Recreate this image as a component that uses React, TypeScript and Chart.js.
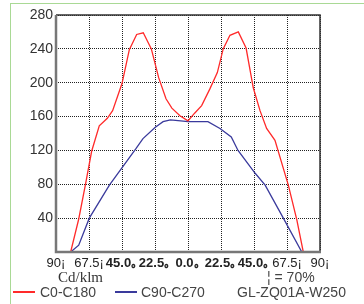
import React, { useEffect, useRef } from "react";
import { Chart, registerables } from "chart.js";

Chart.register(...registerables);

const redAngles = [-80, -74.5, -70, -65.7, -60.5, -55, -51.4, -45, -40, -35, -30.5, -25, -20, -15, -11, -5.5, 0, 4.5, 9.3, 15, 20, 24, 28.6, 34.3, 39.6, 44.5, 49.1, 53.6, 59.3, 68.4, 74.2, 78.6];
const redValues = [0, 39, 79, 119, 149, 158, 167, 199, 239, 257, 259, 240, 206, 181, 170, 161, 155, 164, 173, 193, 212, 240, 256, 260, 241, 194, 167, 146, 132, 79, 38, 0];

const blueAngles = [-80, -74.5, -67.3, -53.6, -35.5, -30.7, -22.5, -17, -12, -5, 0, 13.6, 21.8, 29.5, 34.1, 45.8, 52.6, 65, 77.6];
const blueValues = [0, 8, 40, 79, 122, 134, 147, 154, 156, 155, 154, 154, 146, 136, 120, 93, 79, 40, 0];

const xTickValues = [-90, -67.5, -45, -22.5, 0, 22.5, 45, 67.5, 90];
const xTickLabels = ["90¡", "67.5¡", "45.0｡", "22.5｡", "0.0｡", "22.5｡", "45.0｡", "67.5¡", "90¡"];
const xTickBold = [false, false, true, true, true, true, true, false, false];

const seriesNames = ["C0-C180", "C90-C270"];
const seriesColors = ["#ff2a2a", "#3a3a9c"];
const unitLabel = "Cd/klm";
const efficiencyLabel = "¦ = 70%";
const modelLabel = "GL-ZQ01A-W250";

const SANS = "'Liberation Sans', Arial, sans-serif";

const framePlugin = {
  id: "frame",
  afterDatasetsDraw(chart: any) {
    const { ctx, chartArea } = chart;
    const { left, right, top, bottom } = chartArea;
    ctx.save();
    ctx.setLineDash([]);
    ctx.strokeStyle = "#333";
    ctx.lineWidth = 1.5;
    ctx.beginPath();
    ctx.moveTo(left, top);
    ctx.lineTo(right, top);
    ctx.lineTo(right, bottom);
    ctx.stroke();
    ctx.strokeStyle = "#777";
    ctx.lineWidth = 2.5;
    ctx.beginPath();
    ctx.moveTo(left, top);
    ctx.lineTo(left, bottom);
    ctx.lineTo(right + 1, bottom);
    ctx.stroke();
    ctx.restore();
  },
};

export default function App() {
  const canvasRef = useRef<HTMLCanvasElement | null>(null);

  useEffect(() => {
    if (!canvasRef.current) return;
    const chart = new Chart(canvasRef.current, {
      type: "line",
      data: {
        datasets: [
          {
            label: seriesNames[0],
            data: redAngles.map((a, i) => ({ x: a, y: redValues[i] })),
            borderColor: seriesColors[0],
            borderWidth: 1.3,
            pointRadius: 0,
            tension: 0,
          },
          {
            label: seriesNames[1],
            data: blueAngles.map((a, i) => ({ x: a, y: blueValues[i] })),
            borderColor: seriesColors[1],
            borderWidth: 1.3,
            pointRadius: 0,
            tension: 0,
          },
        ],
      },
      options: {
        responsive: false,
        animation: false,
        devicePixelRatio: 1,
        layout: { padding: { left: 0, top: 15, right: 44, bottom: 32 } },
        plugins: { legend: { display: false }, tooltip: { enabled: false } },
        scales: {
          x: {
            type: "linear",
            min: -90,
            max: 90,
            afterBuildTicks: (scale: any) => {
              scale.ticks = xTickValues.map((v) => ({ value: v }));
            },
            afterFit: (scale: any) => {
              scale.height = 20;
            },
            grid: { color: "#222", lineWidth: 1, drawTicks: false },
            border: { display: false, dash: [1, 1] },
            ticks: {
              padding: 4,
              maxRotation: 0,
              autoSkip: false,
              color: "#222",
              font: (ctx: any) => ({ family: SANS, size: 13, weight: xTickBold[ctx.index] ? "bold" : "normal" }),
              callback: (_v: any, i: number) => xTickLabels[i],
            },
          },
          y: {
            min: 0,
            max: 280,
            afterFit: (scale: any) => {
              scale.width = 56;
            },
            grid: { color: "#222", lineWidth: 1, drawTicks: false },
            border: { display: false, dash: [1, 1] },
            ticks: {
              stepSize: 40,
              padding: 3,
              color: "#333",
              font: { family: SANS, size: 14 },
              callback: (v: any) => (v === 0 ? "" : String(v)),
            },
          },
        },
      },
      plugins: [framePlugin],
    });
    return () => chart.destroy();
  }, []);

  const textBase: React.CSSProperties = { position: "absolute", whiteSpace: "nowrap", lineHeight: "14px" };

  return (
    <div style={{ position: "fixed", left: 0, top: 0, width: 364, height: 304, background: "#fff", overflow: "hidden" }}>
      <div style={{ position: "absolute", left: 10, top: 3, width: 400, height: 400, border: "1.5px solid #a9d995", boxSizing: "border-box" }} />
      <canvas ref={canvasRef} width={364} height={304} style={{ position: "absolute", left: 0, top: 0 }} />
      <div style={{ ...textBase, left: 58, top: 270, fontFamily: "'Liberation Serif', serif", fontSize: 15, color: "#333" }}>{unitLabel}</div>
      <div style={{ ...textBase, left: 267, top: 270, fontFamily: SANS, fontSize: 14, color: "#444" }}>{efficiencyLabel}</div>
      <div style={{ position: "absolute", left: 13, top: 291, width: 22, height: 1.5, background: seriesColors[0] }} />
      <div style={{ ...textBase, left: 40, top: 285, fontFamily: SANS, fontSize: 14, color: "#444" }}>{seriesNames[0]}</div>
      <div style={{ position: "absolute", left: 115, top: 291, width: 22, height: 1.5, background: seriesColors[1] }} />
      <div style={{ ...textBase, left: 141, top: 285, fontFamily: SANS, fontSize: 14, color: "#444" }}>{seriesNames[1]}</div>
      <div style={{ ...textBase, left: 237, top: 285, fontFamily: SANS, fontSize: 14, color: "#444" }}>{modelLabel}</div>
    </div>
  );
}
